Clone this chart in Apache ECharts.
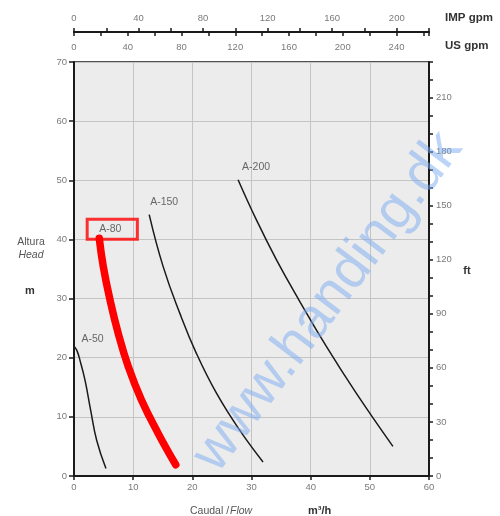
<!DOCTYPE html>
<html>
<head>
<meta charset="utf-8">
<script src="https://cdn.jsdelivr.net/npm/echarts@6/dist/echarts.min.js"></script>
<style>
html,body{margin:0;padding:0;background:#fff;}
#c{width:500px;height:516px;}
</style>
</head>
<body>
<div id="c"></div>
<script>
// ---- data (flow m³/h, head m) ----
const curveNames = ['A-50', 'A-80', 'A-150', 'A-200'];
const a50Flow  = [0.1, 0.5, 1.0, 1.86, 2.82, 3.83, 5.4];
const a50Head  = [21.8, 21.2, 19.6, 16.2, 11.1, 6.05, 1.25];
const a80Flow  = [4.27, 4.95, 6.08, 7.48, 9.17, 11.42, 14.23, 17.2];
const a80Head  = [40.2, 35.4, 29.8, 24.1, 18.5, 12.8, 7.2, 1.9];
const a150Flow = [12.71, 15.07, 17.89, 20.7, 24.08, 28.0, 31.95];
const a150Head = [44.2, 35.4, 27.5, 20.7, 14.0, 7.75, 2.37];
const a200Flow = [27.73, 30.83, 34.2, 38.0, 42.65, 47.7, 53.9];
const a200Head = [50.1, 43.3, 36.6, 29.8, 21.9, 14.0, 5.0];

// axis scales
const flowMax = 60, headMax = 70;
const IMP_PER_M3H = 3.66615, US_PER_M3H = 4.40287, FT_PER_M = 3.28084;
const impLabels = [0, 40, 80, 120, 160, 200];
const usLabels = [0, 40, 80, 120, 160, 200, 240];
const ftLabels = [0, 30, 60, 90, 120, 150, 180, 210];

const FONT = 'Liberation Sans, Arial, sans-serif';
const labelGray = '#7a7a7a';

const flows = [a50Flow, a80Flow, a150Flow, a200Flow];
const heads = [a50Head, a80Head, a150Head, a200Head];
const zip = (xs, ys) => xs.map((x, i) => [x, ys[i]]);

const labelOffsets = [[18, -8], [13, -9], [15, -12], [18, -13]];

const series = curveNames.map((n, i) => ({
  name: n,
  type: 'line',
  xAxisIndex: 0, yAxisIndex: 0,
  data: zip(flows[i], heads[i]),
  smooth: 0.45,
  showSymbol: false,
  silent: true,
  z: n === 'A-80' ? 4 : 3,
  lineStyle: n === 'A-80'
    ? { color: '#ff0000', width: 7.5, cap: 'round', join: 'round' }
    : { color: '#1a1a1a', width: 1.5 }
}));

series.push({
  type: 'scatter',
  xAxisIndex: 0, yAxisIndex: 0,
  symbolSize: 0,
  silent: true,
  z: 5,
  data: curveNames.map((n, i) => ({
    name: n,
    value: [flows[i][0], heads[i][0]],
    label: {
      show: true,
      position: 'inside',
      offset: labelOffsets[i],
      formatter: n,
      color: '#454545',
      fontSize: 10.5,
      fontFamily: FONT,
      ...(n === 'A-80' ? { borderColor: '#ff0000', borderWidth: 3, padding: [7, 16, 2, 12] } : {})
    }
  }))
});

const chart = echarts.init(document.getElementById('c'));
chart.setOption({
  animation: false,
  backgroundColor: '#ffffff',
  grid: {
    left: 74, right: 71, top: 62, bottom: 40,
    show: true, backgroundColor: '#ececec', borderColor: '#1a1a1a', borderWidth: 1.5
  },
  xAxis: [
    {
      type: 'value', min: 0, max: flowMax, interval: 10, position: 'bottom',
      axisLine: { onZero: false, lineStyle: { color: '#1a1a1a', width: 2 } },
      axisTick: { length: 4, lineStyle: { color: '#1a1a1a', width: 1.5 } },
      axisLabel: { color: labelGray, fontSize: 9.5, fontFamily: FONT, margin: 6 },
      splitLine: { lineStyle: { color: '#c4c4c4', width: 1 } }
    },
    {
      type: 'value', min: 0, max: flowMax * IMP_PER_M3H, interval: 20, position: 'top', offset: 30,
      axisLine: { onZero: false, lineStyle: { color: '#1a1a1a', width: 2 } },
      axisTick: { length: 4, lineStyle: { color: '#1a1a1a', width: 1.5 } },
      axisLabel: {
        color: labelGray, fontSize: 9.5, fontFamily: FONT, margin: 9, showMaxLabel: true,
        formatter: v => impLabels.includes(Math.round(v * 1000) / 1000) ? String(v) : ''
      },
      splitLine: { show: false }
    },
    {
      type: 'value', min: 0, max: flowMax * US_PER_M3H, interval: 20, position: 'top', offset: 30,
      axisLine: { onZero: false, lineStyle: { color: '#1a1a1a', width: 2 } },
      axisTick: { inside: true, length: 4, lineStyle: { color: '#1a1a1a', width: 1.5 } },
      axisLabel: {
        inside: true, color: labelGray, fontSize: 9.5, fontFamily: FONT, margin: 10,
        formatter: v => usLabels.includes(Math.round(v * 1000) / 1000) ? String(v) : ''
      },
      splitLine: { show: false }
    }
  ],
  yAxis: [
    {
      type: 'value', min: 0, max: headMax, interval: 10, position: 'left',
      axisLine: { onZero: false, lineStyle: { color: '#1a1a1a', width: 2 } },
      axisTick: { length: 5, lineStyle: { color: '#1a1a1a', width: 1.5 } },
      axisLabel: { color: labelGray, fontSize: 9.5, fontFamily: FONT, margin: 7 },
      splitLine: { lineStyle: { color: '#c4c4c4', width: 1 } }
    },
    {
      type: 'value', min: 0, max: headMax * FT_PER_M, interval: 10, position: 'right',
      axisLine: { onZero: false, lineStyle: { color: '#1a1a1a', width: 2 } },
      axisTick: { length: 4, lineStyle: { color: '#1a1a1a', width: 1.5 } },
      axisLabel: {
        color: labelGray, fontSize: 9.5, fontFamily: FONT, margin: 7,
        formatter: v => ftLabels.includes(Math.round(v * 1000) / 1000) ? String(v) : ''
      },
      splitLine: { show: false }
    }
  ],
  graphic: [
    { type: 'text', x: 445, y: 18, style: { text: 'IMP gpm', font: 'bold 11.5px ' + FONT, fill: '#333', textVerticalAlign: 'middle' } },
    { type: 'text', x: 445, y: 46, style: { text: 'US gpm', font: 'bold 11.5px ' + FONT, fill: '#333', textVerticalAlign: 'middle' } },
    { type: 'text', x: 31, y: 242, style: { text: 'Altura', font: '10.5px ' + FONT, fill: '#555', textAlign: 'center', textVerticalAlign: 'middle' } },
    { type: 'text', x: 31, y: 255, style: { text: 'Head', font: 'italic 10.5px ' + FONT, fill: '#555', textAlign: 'center', textVerticalAlign: 'middle' } },
    { type: 'text', x: 30, y: 291, style: { text: 'm', font: 'bold 11px ' + FONT, fill: '#333', textAlign: 'center', textVerticalAlign: 'middle' } },
    { type: 'text', x: 467, y: 271, style: { text: 'ft', font: 'bold 11px ' + FONT, fill: '#333', textAlign: 'center', textVerticalAlign: 'middle' } },
    { type: 'text', x: 190, y: 511, style: { text: 'Caudal / ', font: '10.5px ' + FONT, fill: '#555', textVerticalAlign: 'middle' } },
    { type: 'text', x: 230, y: 511, style: { text: 'Flow', font: 'italic 10.5px ' + FONT, fill: '#555', textVerticalAlign: 'middle' } },
    { type: 'text', x: 308, y: 511, style: { text: 'm³/h', font: 'bold 11px ' + FONT, fill: '#333', textVerticalAlign: 'middle' } },
    {
      type: 'text', x: 328, y: 302, rotation: 53 * Math.PI / 180, z: 100, silent: true,
      style: { text: 'www.handing.dk', font: '56px ' + FONT, fill: 'rgba(120,170,240,0.5)', textAlign: 'center', textVerticalAlign: 'middle' }
    }
  ],
  series: series
});
</script>
</body>
</html>
